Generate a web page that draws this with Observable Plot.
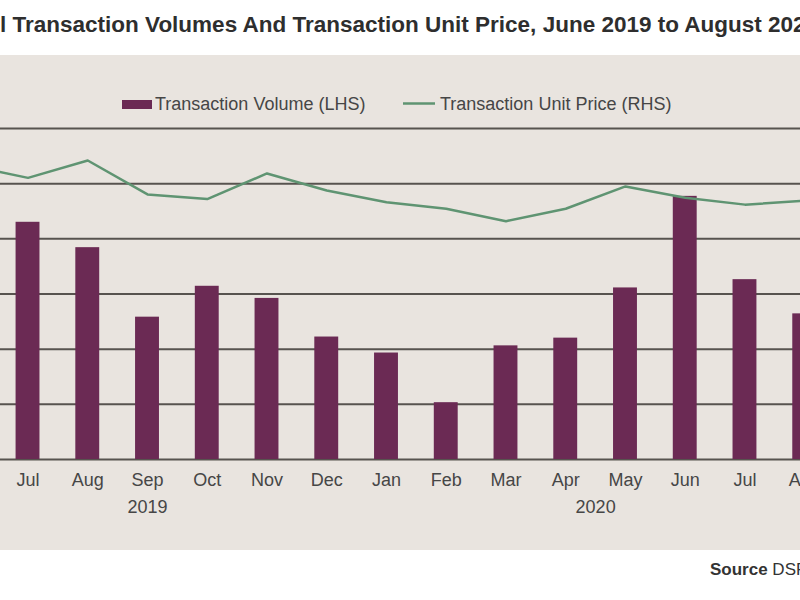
<!DOCTYPE html>
<html>
<head>
<meta charset="utf-8">
<script src="https://cdn.jsdelivr.net/npm/d3@7"></script>
<script src="https://cdn.jsdelivr.net/npm/@observablehq/plot@0.6"></script>
<style>
  html, body { margin: 0; padding: 0; background: #ffffff; overflow: hidden; }
  #page { position: relative; width: 800px; height: 600px; overflow: hidden; background: #ffffff; }
  #panel { position: absolute; left: 0; top: 55px; width: 800px; height: 495px; background: #e9e4df; }
  .layer { position: absolute; left: 0; top: 0; }
  .layer svg { overflow: hidden; }
  #texts { position: absolute; left: 0; top: 0; }
</style>
</head>
<body>
<div id="page">
  <div id="panel"></div>
  <div id="bars" class="layer"></div>
  <div id="line" class="layer"></div>
  <svg id="texts" width="800" height="600" font-family="Liberation Sans, Arial, sans-serif">
    <text x="0" y="32" font-size="22.5" font-weight="bold" fill="#2e2e2e">l Transaction Volumes And Transaction Unit Price, June 2019 to August 2020</text>
    <rect x="122" y="100" width="30" height="9" fill="#6b2a54"></rect>
    <text x="155" y="110" font-size="18" fill="#464646">Transaction Volume (LHS)</text>
    <line x1="403" x2="435" y1="103.5" y2="103.5" stroke="#5f9472" stroke-width="2.5"></line>
    <text x="440" y="110" font-size="18" fill="#464646">Transaction Unit Price (RHS)</text>
    <text x="710" y="575" font-size="17" fill="#333333"><tspan font-weight="bold">Source</tspan> DSF</text>
  </svg>
</div>
<script>
// ---- data ----
const periods = ["2019-06","2019-07","2019-08","2019-09","2019-10","2019-11","2019-12",
                 "2020-01","2020-02","2020-03","2020-04","2020-05","2020-06","2020-07","2020-08"];
const monthLabels = ["Jun","Jul","Aug","Sep","Oct","Nov","Dec","Jan","Feb","Mar","Apr","May","Jun","Jul","Aug"];
const volumes = [3500, 4300, 3840, 2580, 3140, 2920, 2220, 1930, 1030, 2060, 2200, 3110, 4770, 3260, 2640];
const prices  = [1066, 1021, 1084, 961, 944, 1037, 975, 933, 909, 864, 909, 990, 949, 924, 938];
const volumeGrid = [0, 1000, 2000, 3000, 4000, 5000, 6000];
const yearLabels = ["2019", "2020"];
const yearStartPeriod = ["2019-06", "2020-01"];
const yearEndPeriod = ["2019-12", "2020-08"];

const rows = periods.map((p, i) => ({period: p, month: monthLabels[i], volume: volumes[i], price: prices[i]}));
const monthOf = new Map(rows.map(d => [d.period, d.month]));

const xRange = [-62.1, 834.1];
const xScale = {type: "band", domain: periods, range: xRange, paddingInner: 0.6, paddingOuter: 0.3, align: 0.5, round: false};
const step = (xRange[1] - xRange[0]) / periods.length;

// year labels centred on the span of their months
const years = yearLabels.map((y, i) => {
  const a = periods.indexOf(yearStartPeriod[i]), b = periods.indexOf(yearEndPeriod[i]);
  const mid = (a + b) / 2;
  const anchor = periods[Math.floor(mid)];
  return {year: y, anchor, dx: (mid - Math.floor(mid)) * step};
});

const common = {
  width: 800, height: 600,
  marginTop: 128, marginBottom: 141, marginLeft: 0, marginRight: 0,
  style: {background: "transparent", fontFamily: "Liberation Sans, Arial, sans-serif", color: "#464646", overflow: "hidden"}
};

const barPlot = Plot.plot({
  ...common,
  x: xScale,
  y: {domain: [0, 6000], axis: null},
  marks: [
    Plot.ruleY(volumeGrid, {stroke: "#57534f", strokeWidth: 2}),
    Plot.barY(rows, {x: "period", y: "volume", fill: "#6b2a54"}),
    Plot.axisX({ticks: periods.slice(1), tickFormat: d => monthOf.get(d), tickSize: 0, tickPadding: 14, fontSize: 18, label: null, fill: "#464646"}),
    ...years.map(y => Plot.text([y], {x: "anchor", text: "year", frameAnchor: "bottom", dy: 53, dx: y.dx, fontSize: 18, fill: "#464646"}))
  ]
});
document.getElementById("bars").append(barPlot);

const linePlot = Plot.plot({
  ...common,
  x: {...xScale, axis: null},
  y: {domain: [0, 1200], axis: null},
  marks: [
    Plot.line(rows, {x: "period", y: "price", stroke: "#5f9472", strokeWidth: 2.5})
  ]
});
document.getElementById("line").append(linePlot);
</script>
</body>
</html>
